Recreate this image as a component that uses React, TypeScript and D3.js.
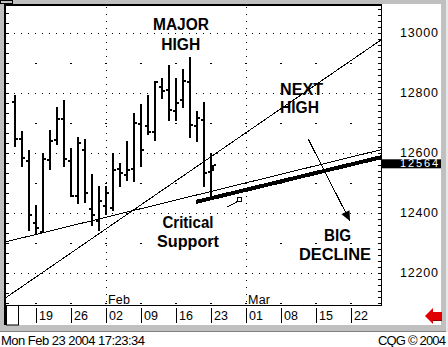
import React from "react";
import * as d3 from "d3";

// ---- data ----
const dates = [
  "2004-01-14", "2004-01-15", "2004-01-16",
  "2004-01-19", "2004-01-20", "2004-01-21", "2004-01-22", "2004-01-23",
  "2004-01-26", "2004-01-27", "2004-01-28", "2004-01-29", "2004-01-30",
  "2004-02-02", "2004-02-03", "2004-02-04", "2004-02-05", "2004-02-06",
  "2004-02-09", "2004-02-10", "2004-02-11", "2004-02-12", "2004-02-13",
  "2004-02-16", "2004-02-17", "2004-02-18", "2004-02-19", "2004-02-20",
  "2004-02-23",
];
const opens = [12771, 12647, 12574, 12366, 12338, 12577, 12643, 12712, 12574, 12457, 12610, 12412, 12373, 12423, 12418, 12546, 12527, 12546, 12697, 12690, 12671, 12819, 12810, 12740, 12777, 12837, 12690, 12710, 12536];
const highs = [12794, 12673, 12610, 12427, 12601, 12677, 12752, 12777, 12616, 12652, 12646, 12529, 12490, 12490, 12601, 12566, 12640, 12732, 12763, 12793, 12840, 12851, 12893, 12850, 12880, 12920, 12740, 12770, 12599];
const lows = [12620, 12552, 12341, 12327, 12332, 12543, 12627, 12554, 12453, 12430, 12432, 12357, 12341, 12393, 12407, 12487, 12508, 12504, 12553, 12660, 12640, 12779, 12708, 12707, 12750, 12650, 12637, 12487, 12454];
const closes = [12647, 12582, 12393, 12349, 12580, 12641, 12713, 12580, 12457, 12633, 12466, 12393, 12440, 12467, 12543, 12534, 12543, 12701, 12610, 12671, 12837, 12807, 12743, 12768, 12840, 12693, 12717, 12533, 12564];
const lastPrice = 12564;

const priceTicks = [13000, 12800, 12600, 12400, 12200];
const minorPriceTicks = [12900, 12700, 12500, 12300, 12100];
const weekTickIdx = [3, 8, 13, 18, 23, 28, 33, 38, 43, 48];
const weekTickLabels = ["19", "26", "02", "09", "16", "23", "01", "08", "15", "22"];
const monthIdx = [13, 33];
const monthNames = ["Feb", "Mar"];

// trend lines: [index, price]
const steepLine = [[-1.29, 12118], [52.29, 12977]];
const shallowLine = [[-1.29, 12304], [52.29, 12611]];
const supportLine = [[25.86, 12437], [52.29, 12586]];
const declineArrow = [[41.9, 12646], [47.86, 12373]];
const smallLine = [[30.24, 12419], [32.0, 12441]];
const smallBox = [32.14, 12443];

const labelTexts = ["MAJOR", "HIGH", "NEXT", "HIGH", "Critical", "Support", "BIG", "DECLINE"];
const labelIdx = [23.71, 23.67, 37.86, 37.86, 24.71, 24.71, 46.07, 45.71];
const labelPrice = [13010, 12943, 12793, 12733, 12350, 12287, 12307, 12243];
const labelAnchor = ["middle", "middle", "start", "start", "middle", "middle", "middle", "middle"];
const labelWidth = [56, 39, 43, 39, 51, 62, 27, 72];

const footerLeft = "Mon Feb 23 2004 17:23:34";
const footerRight = "CQG \u00A9 2004";

// ---- layout ----
const W = 448, H = 347;

export default function App() {
  const xs = d3.scaleLinear().domain([0, 52]).range([15, 379]);
  const ys = d3.scaleLinear().domain([12100, 13000]).range([303, 33]);
  const line = d3.line<number[]>().x((d) => xs(d[0])).y((d) => ys(d[1]));
  const px = (i: number) => Math.round(xs(i)) + 0.5;

  const rightTicks = d3.range(12100, 13100, 20);
  const leftTicks = d3.range(0, 31).map((k) => 13000 - (k - 2) * (100 / 3));

  // arrow head
  const a0 = [xs(declineArrow[0][0]), ys(declineArrow[0][1])];
  const a1 = [xs(declineArrow[1][0]), ys(declineArrow[1][1])];
  const dx = a1[0] - a0[0], dy = a1[1] - a0[1];
  const len = Math.hypot(dx, dy);
  const ux = dx / len, uy = dy / len;
  const hl = 10, hw = 4.5;
  const head = [
    [a1[0], a1[1]],
    [a1[0] - ux * hl - uy * hw, a1[1] - uy * hl + ux * hw],
    [a1[0] - ux * hl + uy * hw, a1[1] - uy * hl - ux * hw],
  ];

  const font = "'Liberation Sans', Arial, sans-serif";
  const lastX = xs(dates.length - 1);
  const lastY = ys(lastPrice);

  return (
    <svg width={W} height={H} style={{ position: "absolute", left: 0, top: 0, background: "#fff" }} fontFamily={font}>
      {/* frame */}
      <rect x={0} y={0} width={448} height={332} fill="#c0c0c0" />
      <rect x={0} y={331} width={448} height={1} fill="#808080" />
      <rect x={446} y={0} width={2} height={332} fill="#e8e8e8" />
      <rect x={0.5} y={0.5} width={12} height={3} fill="#c0c0c0" stroke="#000" />
      <rect x={6} y={6} width={435} height={319} fill="#fff" />
      <rect x={381} y={4} width={60} height={321} fill="#fff" />
      {/* plot border */}
      <rect x={4} y={4} width={377} height={2} fill="#000" />
      <rect x={4} y={4} width={2} height={321} fill="#000" />
      <line x1={381.5} y1={4} x2={381.5} y2={305} stroke="#000" />
      <line x1={6} y1={305.5} x2={382} y2={305.5} stroke="#000" />
      <rect x={6.5} y={305.5} width={12} height={19.5} fill="#fff" stroke="#000" />

      {/* grid */}
      {priceTicks.map((v) => (
        <line key={"g" + v} x1={7} x2={380} y1={Math.round(ys(v)) + 0.5} y2={Math.round(ys(v)) + 0.5}
          stroke="#000" strokeDasharray="1 6" />
      ))}
      {minorPriceTicks.map((v) =>
        weekTickIdx.map((i) => (
          <rect key={"m" + v + "_" + i} x={Math.round(xs(i)) - 1} y={Math.round(ys(v))} width={2} height={1} fill="#000" />
        ))
      )}
      {monthIdx.map((i, k) => (
        <g key={"mon" + k}>
          <line x1={px(i)} x2={px(i)} y1={7} y2={305} stroke="#000" strokeDasharray="1 6" />
          <text x={xs(i) + 2} y={304} fontSize={12.5} textLength={22}>{monthNames[k]}</text>
        </g>
      ))}

      {/* axis ticks */}
      {rightTicks.map((v) => (
        <line key={"rt" + v} x1={378} x2={381} y1={Math.round(ys(v)) + 0.5} y2={Math.round(ys(v)) + 0.5} stroke="#000" />
      ))}
      {leftTicks.filter((v) => ys(v) > 6 && ys(v) < 305).map((v, k) => (
        <line key={"lt" + k} x1={6} x2={9} y1={Math.round(ys(v)) + 0.5} y2={Math.round(ys(v)) + 0.5} stroke="#000" />
      ))}
      {priceTicks.map((v) => (
        <text key={"pl" + v} x={438} y={ys(v) + 3.5} fontSize={12.5} textAnchor="end" textLength={38}>{v}</text>
      ))}

      {/* date axis */}
      {weekTickIdx.map((i, k) => (
        <g key={"wt" + k}>
          <line x1={px(i)} x2={px(i)} y1={308} y2={323} stroke="#000" />
          <text x={px(i) + 2.5} y={320} fontSize={12.5} textLength={14}>{weekTickLabels[k]}</text>
        </g>
      ))}

      {/* bars */}
      {dates.map((d, i) => (
        <g key={d}>
          <rect x={Math.round(xs(i)) - 1} y={Math.round(ys(highs[i]))} width={2}
            height={Math.round(ys(lows[i])) - Math.round(ys(highs[i]))} fill="#000" />
          <rect x={Math.round(xs(i)) - 3} y={Math.round(ys(opens[i])) - 1} width={2} height={2} fill="#000" />
          {i < dates.length - 1 && (
            <rect x={Math.round(xs(i)) + 1} y={Math.round(ys(closes[i])) - 1} width={2} height={2} fill="#000" />
          )}
        </g>
      ))}
      {/* current marker */}
      <rect x={Math.round(lastX) + 1} y={Math.round(lastY) + 1} width={2} height={6} fill="#000" />
      <rect x={Math.round(lastX) + 3} y={Math.round(lastY)} width={2} height={2} fill="#000" />

      {/* trend lines */}
      <g shapeRendering="crispEdges" fill="none" stroke="#000">
        <path d={line(steepLine as any) || ""} strokeWidth={1} />
        <path d={line(shallowLine as any) || ""} strokeWidth={1} />
        <path d={line(supportLine as any) || ""} strokeWidth={4} />
        <path d={line(declineArrow as any) || ""} strokeWidth={1} />
        <path d={line(smallLine as any) || ""} strokeWidth={1} />
      </g>
      <rect x={379} y={Math.round(ys(steepLine[1][1])) - 1} width={2} height={2} fill="#000" />
      <polygon points={head.map((p) => p.join(",")).join(" ")} fill="#000" />
      <rect x={Math.round(xs(smallBox[0])) - 2.5} y={Math.round(ys(smallBox[1])) - 2.5} width={4} height={4} fill="#fff" stroke="#000" />

      {/* annotations */}
      {labelTexts.map((t, k) => (
        <text key={"lab" + k} x={xs(labelIdx[k])} y={ys(labelPrice[k])} fontSize={16} fontWeight="bold"
          textAnchor={labelAnchor[k] as any} textLength={labelWidth[k]} lengthAdjust="spacingAndGlyphs">{t}</text>
      ))}

      {/* last price box */}
      <rect x={381} y={lastY - 4.5} width={60} height={9} fill="#000" />
      <text x={438} y={lastY + 3.6} fontSize={11} fill="#fff" textAnchor="end" textLength={38}>{lastPrice}</text>

      {/* red arrow */}
      <polygon points="425,316 433,308 433,312 442,312 442,320 433,320 433,324" fill="#e00000" />
      <polygon points="433,320 442,320 442,321 433,321" fill="#800000" />

      {/* footer */}
      <text x={1} y={345} fontSize={13} textLength={144}>{footerLeft}</text>
      <text x={446} y={345} fontSize={13} textAnchor="end" textLength={68}>{footerRight}</text>
    </svg>
  );
}
